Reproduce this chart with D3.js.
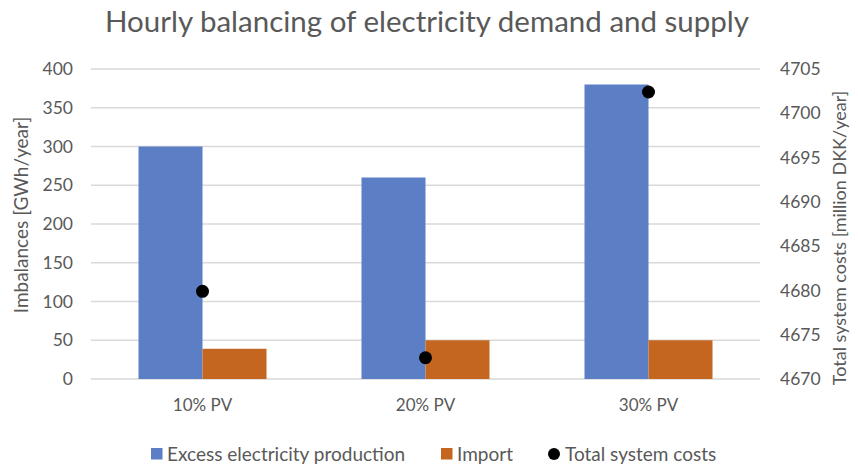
<!DOCTYPE html>
<html lang="en">
<head>
    <meta charset="UTF-8">
    <title>Hourly balancing</title>
    <script src="https://d3js.org/d3.v7.min.js"></script>
    <style>
        body { margin: 0; background: #fff; }
        text { font-family: Lato, "Open Sans", sans-serif; fill: #595959; }
        .grid line { stroke: #d9d9d9; stroke-width: 1.5; }
    </style>
</head>
<body>
<script>
    const width  = 858;
    const height = 468;
    const margin = {top: 69, right: 98, bottom: 89, left: 91};

    const categories = ["10% PV", "20% PV", "30% PV"];
    const excess     = [300, 260, 380];
    const imports    = [39, 50, 50];
    const costs      = [4679.9, 4672.4, 4702.4];
    const leftTicks  = [0, 50, 100, 150, 200, 250, 300, 350, 400];
    const rightTicks = [4670, 4675, 4680, 4685, 4690, 4695, 4700, 4705];
    const seriesNames = ["Excess electricity production", "Import", "Total system costs"];
    const colors = ["#5b7ec4", "#c4661f", "#000000"];

    const svg = d3.select("body").append("svg").attr("width", width).attr("height", height);

    const x = d3.scaleBand()
                .domain(categories)
                .range([margin.left, width - margin.right]);

    const barW = x.bandwidth() * 0.287;

    const yL = d3.scaleLinear().domain([0, 400]).range([height - margin.bottom, margin.top]);
    const yR = d3.scaleLinear().domain([4670, 4705]).range([height - margin.bottom, margin.top]);

    // gridlines
    svg.append("g").attr("class", "grid")
       .selectAll("line").data(leftTicks).join("line")
       .attr("x1", margin.left).attr("x2", width - margin.right)
       .attr("y1", d => yL(d)).attr("y2", d => yL(d));

    // bars
    const center = c => x(c) + x.bandwidth() / 2;
    svg.append("g").selectAll("rect").data(categories).join("rect")
       .attr("x", c => center(c) - barW)
       .attr("y", (c, i) => yL(excess[i]))
       .attr("width", barW)
       .attr("height", (c, i) => yL(0) - yL(excess[i]))
       .attr("fill", colors[0]);
    svg.append("g").selectAll("rect").data(categories).join("rect")
       .attr("x", c => center(c))
       .attr("y", (c, i) => yL(imports[i]))
       .attr("width", barW)
       .attr("height", (c, i) => yL(0) - yL(imports[i]))
       .attr("fill", colors[1]);

    // cost points
    svg.append("g").selectAll("circle").data(categories).join("circle")
       .attr("cx", c => center(c))
       .attr("cy", (c, i) => yR(costs[i]))
       .attr("r", 6.5)
       .attr("fill", colors[2]);

    // axes
    const axL = svg.append("g")
       .attr("transform", "translate(" + [margin.left, 0] + ")")
       .call(d3.axisLeft(yL).tickValues(leftTicks).tickSize(0).tickPadding(18));
    const axR = svg.append("g")
       .attr("transform", "translate(" + [width - margin.right, 0] + ")")
       .call(d3.axisRight(yR).tickValues(rightTicks).tickFormat(d3.format("d")).tickSize(0).tickPadding(20));
    const axB = svg.append("g")
       .attr("transform", "translate(" + [0, height - margin.bottom] + ")")
       .call(d3.axisBottom(x).tickSize(0).tickPadding(20));
    [axL, axR, axB].forEach(a => {
        a.select(".domain").remove();
        a.selectAll("text").style("font-size", "17.5px").attr("fill", "#595959");
    });
    axB.selectAll("text").style("font-size", "17px");

    // title
    svg.append("text").attr("x", 427).attr("y", 32)
       .attr("text-anchor", "middle").style("font-size", "29.5px")
       .text("Hourly balancing of electricity demand and supply");

    // axis titles
    svg.append("text")
       .attr("transform", "translate(28,215) rotate(-90)")
       .attr("text-anchor", "middle").style("font-size", "19px")
       .text("Imbalances [GWh/year]");
    svg.append("text")
       .attr("transform", "translate(846,238) rotate(-90)")
       .attr("text-anchor", "middle").style("font-size", "18px")
       .text("Total system costs [million DKK/year]");

    // legend
    const legX = [151, 441, 548];
    const leg = svg.append("g").attr("transform", "translate(0,454)");
    seriesNames.forEach((n, i) => {
        const g = leg.append("g").attr("transform", "translate(" + legX[i] + ",0)");
        if (i < 2) {
            g.append("rect").attr("x", 0).attr("y", -6).attr("width", 11.5).attr("height", 11.5).attr("fill", colors[i]);
        } else {
            g.append("circle").attr("cx", 6).attr("cy", 0).attr("r", 6).attr("fill", colors[i]);
        }
        g.append("text").attr("x", i < 2 ? 16 : 17).attr("y", 6.5).style("font-size", "19px").text(n);
    });
</script>
</body>
</html>
